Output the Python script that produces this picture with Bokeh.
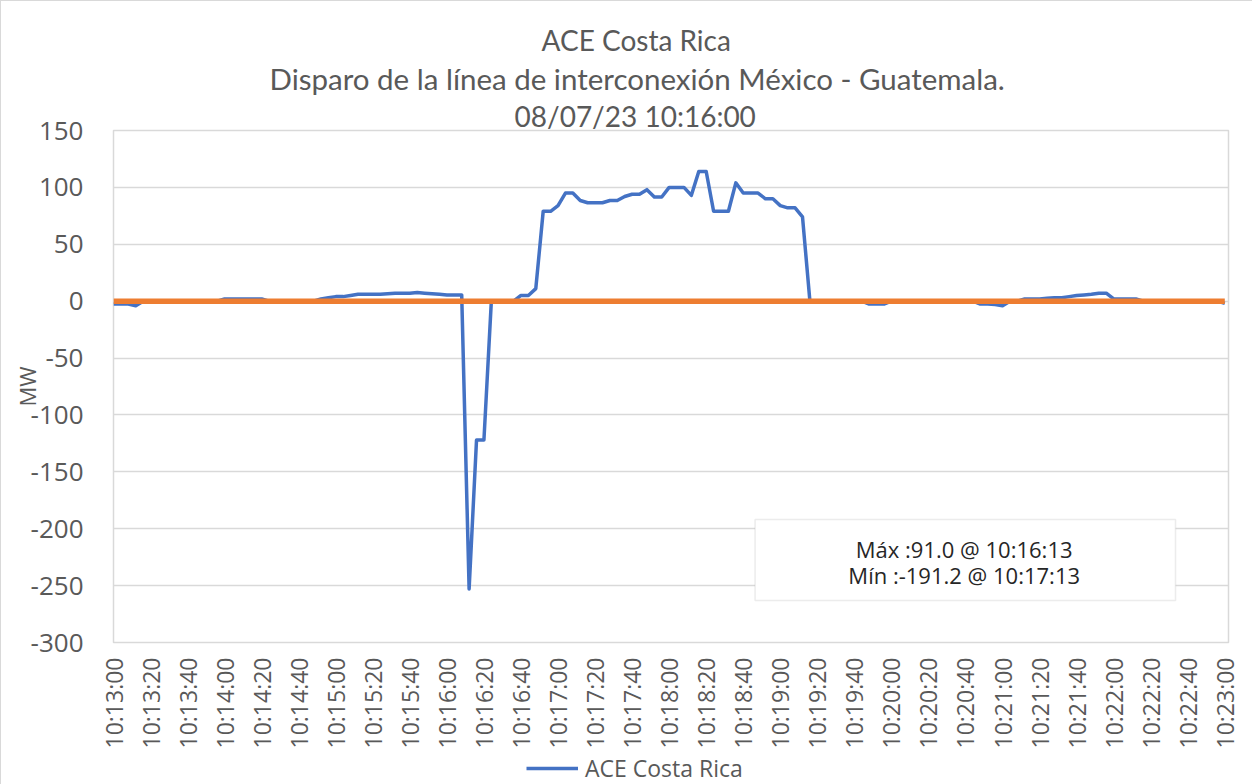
import math
from bokeh.plotting import figure
from bokeh.layouts import column
from bokeh.models import Range1d, FixedTicker, Label, Legend, LegendItem, BoxAnnotation, Title
from bokeh.embed import file_html
from bokeh.resources import INLINE

# ---------------- data ----------------
title_lines = ["ACE Costa Rica",
               "Disparo de la línea de interconexión México - Guatemala.",
               "08/07/23 10:16:00"]
series_name = "ACE Costa Rica"
y_axis_title = "MW"
note_lines = ["Máx :91.0 @ 10:16:13", "Mín :-191.2 @ 10:17:13"]

tick_labels = ["10:13:00", "10:13:20", "10:13:40", "10:14:00", "10:14:20", "10:14:40",
               "10:15:00", "10:15:20", "10:15:40", "10:16:00", "10:16:20", "10:16:40",
               "10:17:00", "10:17:20", "10:17:40", "10:18:00", "10:18:20", "10:18:40",
               "10:19:00", "10:19:20", "10:19:40", "10:20:00", "10:20:20", "10:20:40",
               "10:21:00", "10:21:20", "10:21:40", "10:22:00", "10:22:20", "10:22:40",
               "10:23:00"]
tick_seconds = [0, 20, 40, 60, 80, 100, 120, 140, 160, 180, 200, 220, 240, 260, 280, 300,
                320, 340, 360, 380, 400, 420, 440, 460, 480, 500, 520, 540, 560, 580, 600]
y_ticks = [-300, -250, -200, -150, -100, -50, 0, 50, 100, 150]
y_tick_labels = ["-300", "-250", "-200", "-150", "-100", "-50", "0", "50", "100", "150"]

# ACE Costa Rica, one sample every 4 s from 10:13:00 to 10:23:00
ace_values = [
    -2.5, -2.5, -2.5, -4, 0, 0, 0, 0, 0, 0,
    0, 0, 0, 0, 0, 2, 2, 2, 2, 2,
    2, 0, 0, 0, 0, 0, 0, 0, 2, 3,
    4, 4, 5, 6, 6, 6, 6, 6.5, 7, 7,
    7, 7.6, 7, 6.5, 6, 5.5, 5.5, 5.5, -253, -122,
    -122, 0, 0, 0, 0, 5, 5, 11, 79, 79,
    84, 95, 95, 88.5, 86.5, 86.5, 86.5, 88.5, 88.5, 92,
    94, 94, 98, 91.5, 91.5, 100, 100, 100, 93, 114,
    114, 79, 79, 79, 104, 95, 95, 95, 90, 90,
    84, 82, 82, 74, 0, 0, 0, 0, 0, 0,
    0, 0, -2.5, -2.5, -2.5, 0, 0, 0, 0, 0,
    0, 0, 0, 0, 0, 0, 0, -2.5, -2.5, -3,
    -4, 0, 0, 2, 2, 2, 2.5, 3, 3, 4,
    5, 5.5, 6, 7, 7, 2, 2, 2, 2, 0,
    0, 0, 0, 0, 0, 0, 0, 0, 0, 0,
    -2,
]
zero_values = [0.0] * len(ace_values)
sample_step_s = 4
times_s = [i * sample_step_s for i in range(len(ace_values))]

BLUE = "#4472C4"
ORANGE = "#ED7D31"
GRAY_TEXT = "#595959"
GRID = "#d9d9d9"

p = figure(width=1251, height=751, output_backend="svg", toolbar_location=None, title=None,
           x_range=Range1d(0, 602), y_range=Range1d(-300, 150),
           min_border_left=112, min_border_right=24, min_border_top=129,
           min_border_bottom=110)
p.outline_line_color = GRID
p.outline_line_width = 1.5

blue = p.line(times_s, ace_values, line_color=BLUE, line_width=3.5, line_join="round")
p.line(times_s, zero_values, line_color=ORANGE, line_width=5.5)

# axes
p.xaxis.ticker = FixedTicker(ticks=tick_seconds)
p.xaxis.major_label_overrides = {s: lab for s, lab in zip(tick_seconds, tick_labels)}
p.xaxis.major_label_orientation = math.pi / 2
p.yaxis.ticker = FixedTicker(ticks=y_ticks)
p.yaxis.major_label_overrides = {v: lab for v, lab in zip(y_ticks, y_tick_labels)}
for ax in (p.xaxis[0], p.yaxis[0]):
    ax.axis_line_color = None
    ax.major_tick_line_color = None
    ax.minor_tick_line_color = None
    ax.major_label_text_font = "Open Sans"
    ax.major_label_text_color = GRAY_TEXT
p.xaxis.major_label_text_font_size = "23px"
p.yaxis.major_label_text_font_size = "26px"
p.xaxis.major_label_standoff = 9
p.yaxis.major_label_standoff = 24
p.yaxis.axis_label = y_axis_title
p.yaxis.axis_label_text_font = "Open Sans"
p.yaxis.axis_label_text_font_size = "22px"
p.yaxis.axis_label_text_font_style = "normal"
p.yaxis.axis_label_text_color = GRAY_TEXT
p.yaxis.axis_label_standoff = -14

p.xgrid.grid_line_color = None
p.ygrid.grid_line_color = GRID
p.ygrid.grid_line_width = 1.5

# titles (closest to the frame first)
title_sizes = ["28px", "29.5px", "28px"]
for txt, off, size, so in zip(reversed(title_lines), [401, 156, 428],
                              reversed(title_sizes), [-4, 5, 0]):
    p.add_layout(Title(text=txt, align="left", offset=off, standoff=so,
                       text_font="Lato", text_font_size=size, text_font_style="normal",
                       text_color=GRAY_TEXT), "above")

# annotation box
p.add_layout(BoxAnnotation(left=346.4, right=573.4, top=-191.9, bottom=-263.1,
                           fill_color="white", fill_alpha=1.0,
                           line_color="#bfbfbf", line_width=1.5))
for txt, yy in zip(note_lines, [-217.4, -241.1]):
    p.add_layout(Label(x=459.3, y=yy, text=txt, text_align="center", text_baseline="middle",
                       text_font="Open Sans", text_font_size="22px", text_color="#262626"))

# legend strip under the chart (its frame is aligned with the chart frame)
lg = figure(width=1251, height=32, output_backend="svg", toolbar_location=None, title=None,
            x_range=Range1d(0, 1), y_range=Range1d(0, 1), x_axis_type=None, y_axis_type=None,
            min_border=0)
lg.outline_line_color = None
lg.grid.grid_line_color = None
sample = lg.line([5, 6], [5, 6], line_color=BLUE, line_width=3.5)
legend = Legend(items=[LegendItem(label=series_name, renderers=[sample])],
                location=(413, 0), orientation="horizontal",
                label_text_font="Open Sans", label_text_font_size="23px",
                label_text_color=GRAY_TEXT, glyph_width=52, label_standoff=7,
                border_line_color=None, background_fill_alpha=0, padding=2, margin=0)
lg.add_layout(legend, "center")

layout = column(p, lg, spacing=0,
                styles={"border-top": "1px solid #d9d9d9", "border-left": "1px solid #d9d9d9"})
open("out.html", "w").write(file_html(layout, INLINE))
